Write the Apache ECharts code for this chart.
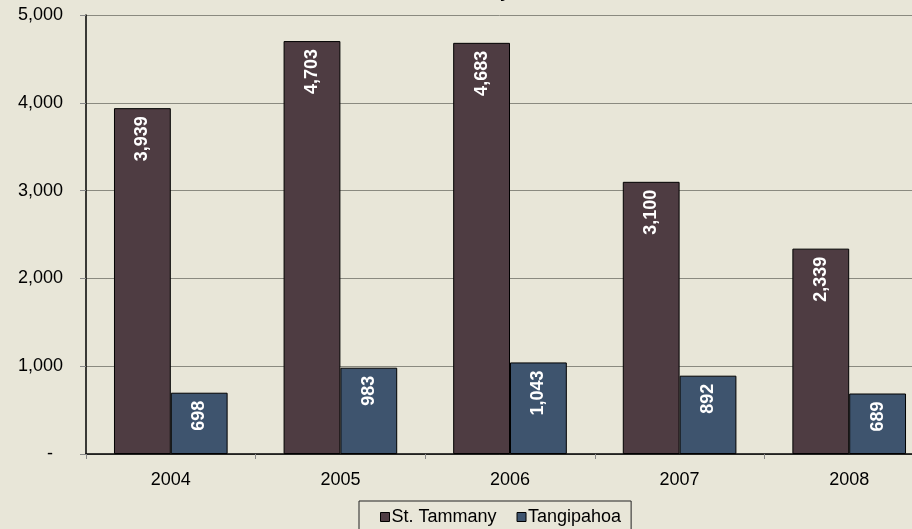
<!DOCTYPE html>
<html>
<head>
<meta charset="utf-8">
<script src="https://cdn.jsdelivr.net/npm/echarts@6/dist/echarts.min.js"></script>
<style>
  html, body { margin: 0; padding: 0; background: #e8e6d8; overflow: hidden; }
  #chart { width: 912px; height: 529px; }
</style>
</head>
<body>
<div id="chart"></div>
<script>
// years and permit counts per parish
const years = ['2004', '2005', '2006', '2007', '2008'];
const stTammany = [3939, 4703, 4683, 3100, 2339];
const tangipahoa = [698, 983, 1043, 892, 689];

const colors = ['#4e3c42', '#3e546e'];

const fmt = function (v) {
  return v.toLocaleString('en-US');
};

const chart = echarts.init(document.getElementById('chart'));

const labelOpt = {
  show: true,
  position: 'insideTop',
  distance: 8,
  rotate: 90,
  align: 'right',
  verticalAlign: 'middle',
  color: '#fff',
  fontFamily: 'Liberation Sans, Arial, sans-serif',
  fontWeight: 'bold',
  fontSize: 18,
  formatter: function (p) { return fmt(p.value); }
};

const option = {
  backgroundColor: '#e8e6d8',
  color: colors,
  textStyle: { fontFamily: 'Liberation Sans, Arial, sans-serif' },
  animation: false,
  // title sits mostly above the picture, only a descender shows
  title: {
    text: 'Permits by Parish',
    left: 418,
    top: -17,
    padding: 0,
    textStyle: { fontSize: 18, fontWeight: 'bold', color: '#000' }
  },
  legend: {
    left: 359,
    top: 501,
    padding: [7, 10, 8, 21],
    itemGap: 20,
    itemWidth: 9,
    itemHeight: 9,
    icon: 'rect',
    borderColor: '#222',
    borderWidth: 1,
    itemStyle: { borderColor: '#000', borderWidth: 1 },
    textStyle: { fontSize: 18, color: '#000', padding: [0, 0, 0, -3] }
  },
  // plot runs past the right edge of the picture
  grid: {
    left: 86,
    top: 15,
    width: 848,
    height: 439,
    containLabel: false,
    outerBoundsMode: 'none'
  },
  xAxis: {
    type: 'category',
    data: years,
    axisLine: { lineStyle: { color: '#000', width: 1.5 } },
    axisTick: { show: true, length: 5, lineStyle: { color: '#888' } },
    axisLabel: { margin: 17, fontSize: 18, color: '#000' }
  },
  yAxis: {
    type: 'value',
    min: 0,
    max: 5000,
    interval: 1000,
    axisLine: { show: true, lineStyle: { color: '#000', width: 1.5 } },
    axisTick: { show: true, length: 6, lineStyle: { color: '#888' } },
    splitLine: { lineStyle: { color: '#8a8a80' } },
    axisLabel: {
      margin: 23,
      fontSize: 18,
      color: '#000',
      formatter: function (v) { return v === 0 ? '-  ' : fmt(v); }
    }
  },
  series: [
    {
      name: 'St. Tammany',
      type: 'bar',
      data: stTammany,
      barGap: '0%',
      barCategoryGap: '33%',
      itemStyle: { borderColor: '#000', borderWidth: 1 },
      label: labelOpt
    },
    {
      name: 'Tangipahoa',
      type: 'bar',
      data: tangipahoa,
      itemStyle: { borderColor: '#000', borderWidth: 1 },
      label: labelOpt
    }
  ]
};

chart.setOption(option);
</script>
</body>
</html>
